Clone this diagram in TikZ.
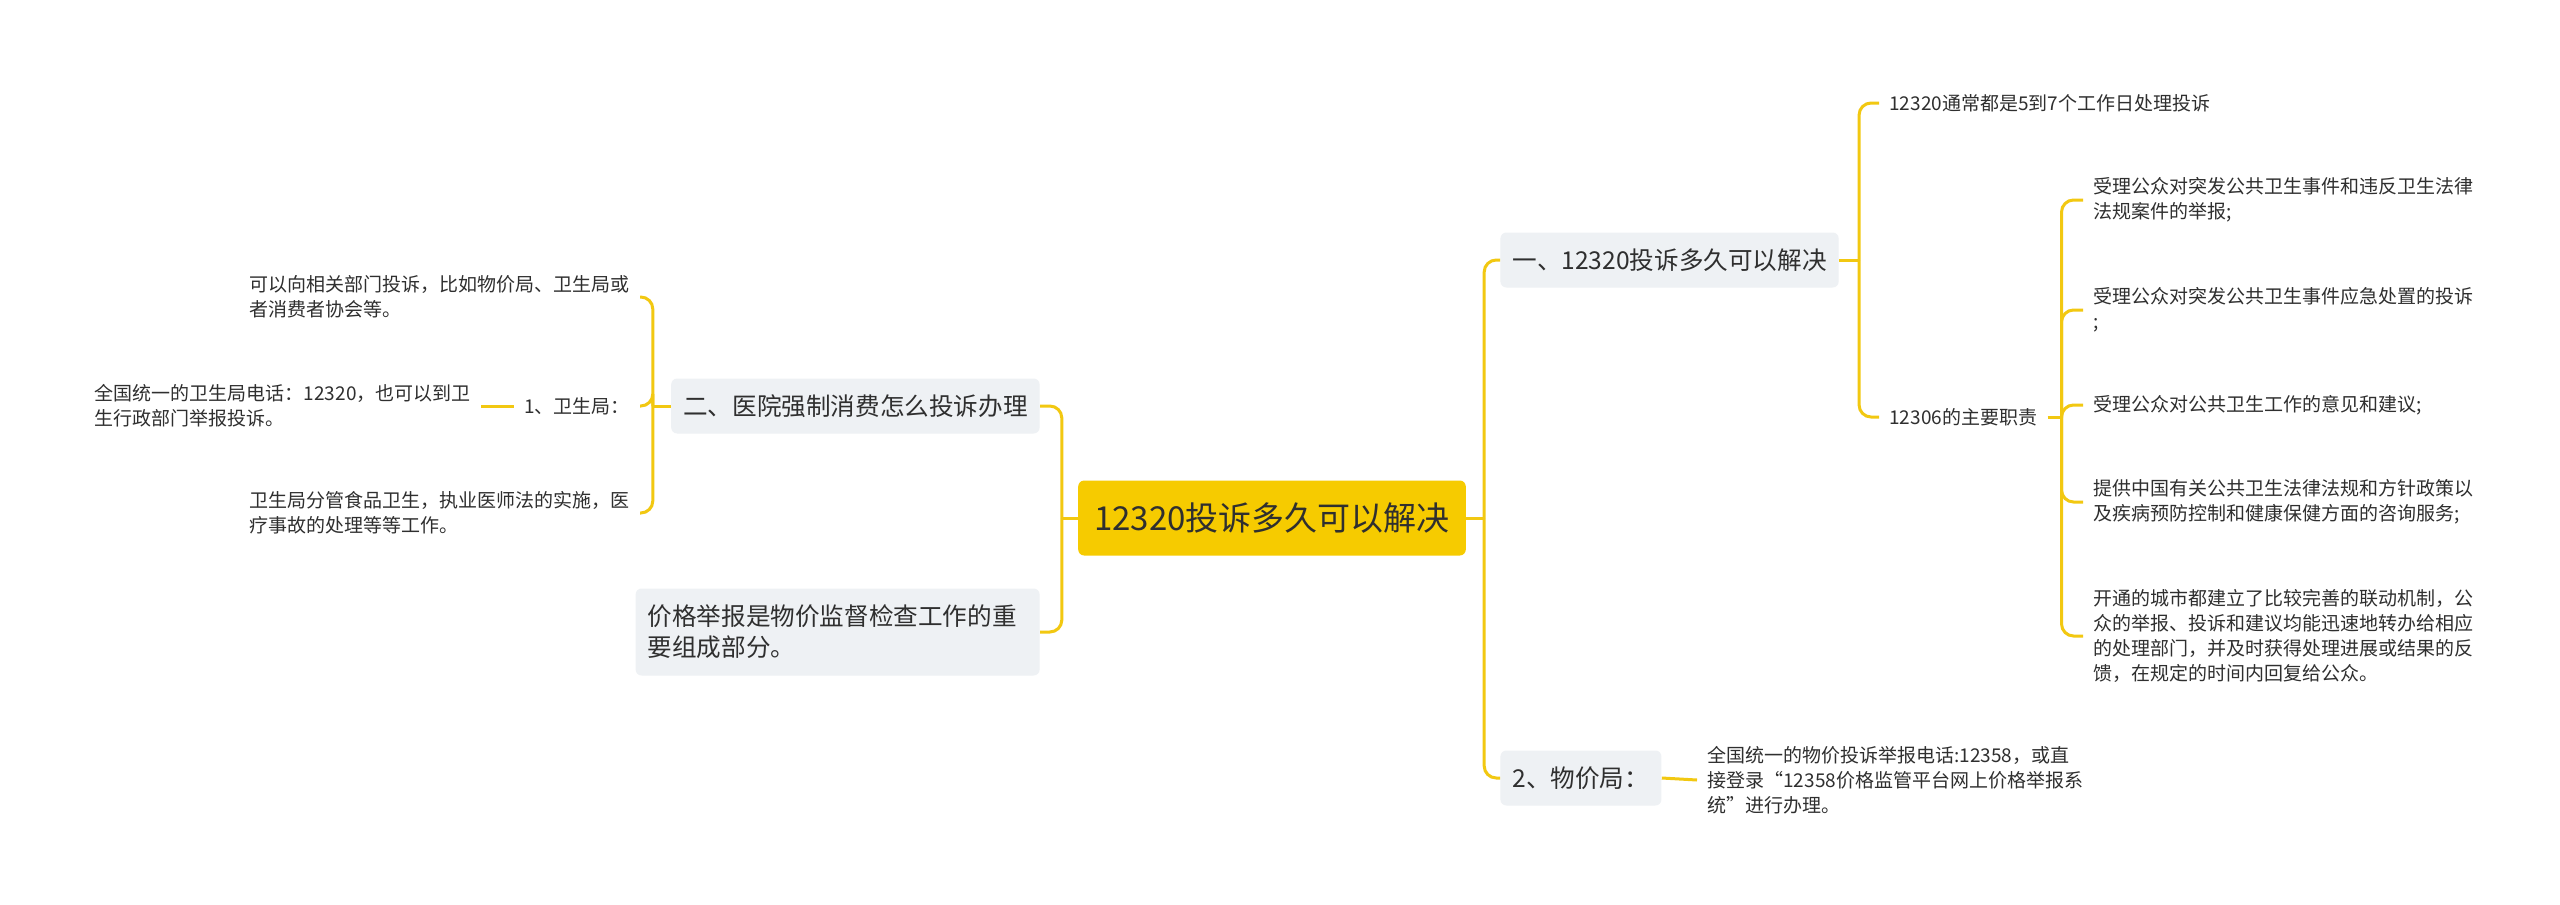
\documentclass[tikz,border=0pt]{standalone}
\usepackage{fontspec}
\setmainfont{Noto Sans CJK SC}
\usetikzlibrary{calc}
\definecolor{RootYellow}{HTML}{F6CB00}
\definecolor{LinkYellow}{HTML}{F2C811}
\definecolor{BoxGray}{HTML}{EEF1F4}
\definecolor{TextDark}{HTML}{2F2F2F}
\tikzset{
  rootbox/.style={fill=RootYellow, rounded corners=3pt, inner xsep=8pt, minimum height=37.5pt, font=\fontsize{16.5}{20}\selectfont, text=TextDark},
  graybox/.style={fill=BoxGray, rounded corners=3pt, inner xsep=6pt, minimum height=27.5pt, align=left, font=\fontsize{12.3}{15.5}\selectfont, text=TextDark},
  leaf/.style={inner xsep=5pt, inner ysep=2pt, align=left, font=\fontsize{9.5}{12.4}\selectfont, text=TextDark},
  link/.style={draw=LinkYellow, line width=1.5pt, rounded corners=6pt}
}

\begin{document}
\begin{tikzpicture}[x=0.5pt, y=-0.5pt]
\fill[white] (0,0) rectangle (2560,905);
\useasboundingbox (0,0) rectangle (2560,905);
% centre
\node[rootbox] (root) at (1272,518) {12320投诉多久可以解决};
% left side
\node[graybox, anchor=east] (b1) at (1040,406) {二、医院强制消费怎么投诉办理};
\node[graybox, anchor=east, text width=190pt, minimum height=43.5pt] (b2) at (1040,632) {价格举报是物价监督检查工作的重\\要组成部分。};
\node[leaf, anchor=east] (t1) at (640,297) {可以向相关部门投诉，比如物价局、卫生局或\\者消费者协会等。};
\node[leaf, anchor=east] (wsj) at (640,406) {1、卫生局：};
\node[leaf, anchor=east] (t3) at (640,513) {卫生局分管食品卫生，执业医师法的实施，医\\疗事故的处理等等工作。};
\node[leaf, anchor=east] (tel) at (481,406) {全国统一的卫生局电话：12320，也可以到卫\\生行政部门举报投诉。};
% right side
\node[graybox, anchor=west] (r1) at (1500,260) {一、12320投诉多久可以解决};
\node[graybox, anchor=west, text width=68.5pt] (r2) at (1500,778) {2、物价局：};
\node[leaf, anchor=west] (r1a) at (1879,103) {12320通常都是5到7个工作日处理投诉};
\node[leaf, anchor=west] (r1b) at (1879,417) {12306的主要职责};
\node[leaf, anchor=west] (c1) at (2083,200) {受理公众对突发公共卫生事件和违反卫生法律\\法规案件的举报;};
\node[leaf, anchor=west] (c2) at (2083,310) {受理公众对突发公共卫生事件应急处置的投诉\\;};
\node[leaf, anchor=west] (c3) at (2083,405) {受理公众对公共卫生工作的意见和建议;};
\node[leaf, anchor=west] (c4) at (2083,502) {提供中国有关公共卫生法律法规和方针政策以\\及疾病预防控制和健康保健方面的咨询服务;};
\node[leaf, anchor=west] (c5) at (2083,636) {开通的城市都建立了比较完善的联动机制，公\\众的举报、投诉和建议均能迅速地转办给相应\\的处理部门，并及时获得处理进展或结果的反\\馈，在规定的时间内回复给公众。};
\node[leaf, anchor=west] (r2a) at (1697,780) {全国统一的物价投诉举报电话:12358，或直\\接登录“12358价格监管平台网上价格举报系\\统”进行办理。};
% links
\coordinate (jl) at ([xshift=-8pt]root.west);
\coordinate (jr) at ([xshift=9pt]root.east);
\coordinate (jb) at ([xshift=-9pt]b1.west);
\coordinate (jr1) at ([xshift=10pt]r1.east);
\coordinate (jd) at ([xshift=7pt]r1b.east);
\draw[link] (root.west) -- (jl);
\draw[link] (jl) |- (b1.east);
\draw[link] (jl) |- (b2.east);
\draw[link] (root.east) -- (jr);
\draw[link] (jr) |- (r1.west);
\draw[link] (jr) |- (r2.west);
\draw[link] (b1.west) -- (jb);
\draw[link] (jb) |- (t1.east);
\draw[link] (jb) |- (wsj.east);
\draw[link] (jb) |- (t3.east);
\draw[link] (wsj.west) -- (tel.east);
\draw[link] (r1.east) -- (jr1);
\draw[link] (jr1) |- (r1a.west);
\draw[link] (jr1) |- (r1b.west);
\draw[link] (r1b.east) -- (jd);
\foreach \c in {c1,c2,c3,c4,c5}
  \draw[link] (jd) |- (\c.west);
\draw[link] (r2.east) -- (r2a.west);
\end{tikzpicture}
\end{document}
